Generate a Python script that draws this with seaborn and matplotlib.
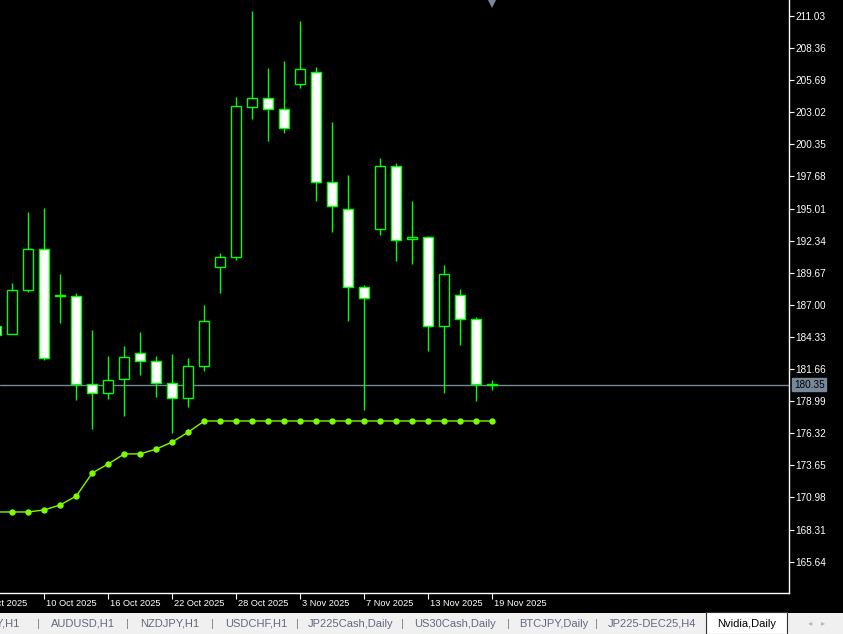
import matplotlib
matplotlib.use("Agg")
import matplotlib.pyplot as plt
import matplotlib.patches as mpatches
import matplotlib.transforms as mtransforms
import seaborn as sns
import pandas as pd

# ---------------- data ----------------
bar_idx = list(range(-1, 31))
opens = [185.20, 184.57, 188.23, 191.64, 187.80, 187.73, 180.42, 179.67, 180.83, 182.99,
         182.33, 180.50, 179.25, 181.91, 190.14, 190.97, 203.49, 204.19, 203.27, 205.35,
         206.35, 197.21, 194.96, 188.48, 193.30, 198.54, 192.47, 192.63, 185.20, 187.81,
         185.82, 180.42]
highs = [185.40, 188.81, 194.74, 195.07, 189.58, 187.98, 184.93, 182.77, 183.60, 184.76,
         182.77, 182.93, 182.60, 187.01, 191.30, 204.27, 211.42, 206.71, 207.29, 210.61,
         206.79, 202.22, 197.81, 188.67, 199.23, 198.81, 195.65, 192.74, 190.33, 188.34,
         186.01, 180.77]
lows = [184.30, 184.57, 188.11, 182.38, 185.45, 179.11, 176.70, 179.19, 177.72, 181.19,
        179.30, 176.31, 178.47, 181.46, 187.95, 190.69, 202.49, 200.66, 201.33, 205.07,
        195.68, 193.02, 185.68, 178.22, 192.85, 190.61, 190.44, 183.12, 179.63, 183.62,
        178.97, 179.88]
closes = [184.51, 188.23, 191.64, 182.58, 187.76, 180.42, 179.67, 180.77, 182.66, 182.33,
          180.50, 179.25, 181.91, 185.65, 190.97, 203.52, 204.19, 203.27, 201.69, 206.60,
          197.21, 195.21, 188.48, 187.53, 198.54, 192.39, 192.63, 185.20, 189.56, 185.82,
          180.42, 180.35]

ind_idx = list(range(-2, 31))
ind_vals = [169.77, 169.77, 169.77, 169.77, 169.94, 170.36, 171.10, 173.02, 173.77, 174.60,
            174.60, 175.01, 175.59, 176.42, 177.34, 177.34, 177.34, 177.34, 177.34, 177.34,
            177.34, 177.34, 177.34, 177.34, 177.34, 177.34, 177.34, 177.34, 177.34, 177.34,
            177.34, 177.34, 177.34]

bid_price = 180.35
price_ticks = [211.03, 208.36, 205.69, 203.02, 200.35, 197.68, 195.01, 192.34, 189.67,
               187.00, 184.33, 181.66, 178.99, 176.32, 173.65, 170.98, 168.31, 165.64]
date_tick_idx = [-2, 2, 6, 10, 14, 18, 22, 26, 30]
date_tick_labels = ["6 Oct 2025", "10 Oct 2025", "16 Oct 2025", "22 Oct 2025", "28 Oct 2025",
                    "3 Nov 2025", "7 Nov 2025", "13 Nov 2025", "19 Nov 2025"]
tabs = ["JPY,H1", "AUDUSD,H1", "NZDJPY,H1", "USDCHF,H1", "JP225Cash,Daily",
        "US30Cash,Daily", "BTCJPY,Daily", "JP225-DEC25,H4", "Nvidia,Daily"]
active_tab = "Nvidia,Daily"

# ---------------- style ----------------
sns.set_style("dark")
plt.rcParams['font.family'] = ['Liberation Sans', 'DejaVu Sans']

W, H = 843, 634
fig = plt.figure(figsize=(W / 100, H / 100), dpi=100, facecolor="black")
ax_l, ax_r, ax_b = 0, 789, 593
ax = fig.add_axes([ax_l / W, (H - ax_b) / H, (ax_r - ax_l) / W, ax_b / H])
ax.set_facecolor("black")

GREEN = "#00FF00"
IND = "#7CFC00"
BIDC = "#778899"
XLIM = (-0.77, 48.54)
YLIM = (163.03, 212.36)

# price (bid) line
ax.axhline(bid_price, color=BIDC, lw=1, zorder=1)

# indicator line with dots
df_ind = pd.DataFrame({"idx": ind_idx, "val": ind_vals})
sns.lineplot(data=df_ind, x="idx", y="val", ax=ax, color=IND, lw=1, marker="o",
             markersize=4.6, markeredgewidth=0, zorder=4)

# candles
df = pd.DataFrame({"idx": bar_idx, "open": opens, "high": highs, "low": lows, "close": closes})
ax.vlines(df["idx"], df["low"], df["high"], color=GREEN, lw=1, zorder=2)
bottoms = df[["open", "close"]].min(axis=1)
heights = (df["open"] - df["close"]).abs()
fills = ["white" if c < o else "black" for o, c in zip(df["open"], df["close"])]
ax.bar(df["idx"], heights, bottom=bottoms, width=0.62, color=fills, edgecolor=GREEN,
       linewidth=1, zorder=3)

# spines
for s in ["top", "left"]:
    ax.spines[s].set_visible(False)
for s in ["right", "bottom"]:
    ax.spines[s].set_visible(True)
    ax.spines[s].set_color("white")
    ax.spines[s].set_linewidth(1)
ax.grid(False)

# right price axis
ax.yaxis.tick_right()
ax.set_yticks(price_ticks)
ax.set_yticklabels([f"{p:.2f}" for p in price_ticks])
ax.tick_params(axis="y", colors="white", labelcolor="white", length=3.5, width=0.8,
               direction="out", pad=1, labelsize=7.2, right=True, left=False)

# bottom date axis: tick marks + left-aligned labels
ax.set_xticks(date_tick_idx)
ax.set_xticklabels([""] * len(date_tick_idx))
ax.tick_params(axis="x", colors="white", length=4, width=0.8, direction="out", bottom=True)
ax.set_xlabel("")
ax.set_ylabel("")
trans = mtransforms.blended_transform_factory(ax.transData, ax.transAxes)
for xi, lab in zip(date_tick_idx, date_tick_labels):
    ax.text(xi + 0.1, -0.017, lab, transform=trans, ha="left", va="center", fontsize=6.7,
            color="white", clip_on=False)

# limits last (set_xticks may expand them)
ax.set_xlim(*XLIM)
ax.set_ylim(*YLIM)

# bid price label box
ax.annotate(f"{bid_price:.2f}", xy=(1, bid_price), xycoords=("axes fraction", "data"),
            xytext=(3.5, 0), textcoords="offset points", ha="left", va="center",
            fontsize=7.2, color="black",
            bbox=dict(boxstyle="square,pad=0.15", fc=BIDC, ec=BIDC), annotation_clip=False)

# chart-shift marker at the last bar
ax.annotate("", xy=(bar_idx[-1], 1), xycoords=("data", "axes fraction"))
ax.plot([bar_idx[-1]], [1], marker="v", markersize=7.5, color=BIDC, markeredgewidth=0,
        transform=trans + mtransforms.ScaledTranslation(0, -2.5 / 72 * 72 / 100, fig.dpi_scale_trans),
        clip_on=False, zorder=6)

# tab bar
tab_top = 613
fig.patches.append(mpatches.Rectangle((0, 0), 1, (H - tab_top) / H, transform=fig.transFigure,
                                      fc="#F0F0F0", ec="none", zorder=0))
tab_x = [-16, 51, 140, 225, 308, 414, 519, 608, 717]
sep_x = [38, 127, 212, 297, 402, 508, 596]
ty = (H - 624) / H
for name, x in zip(tabs, tab_x):
    if name == active_tab:
        fig.patches.append(mpatches.Rectangle((706 / W, 0), 81 / W, (H - tab_top + 1) / H,
                                              transform=fig.transFigure, fc="white",
                                              ec="#333333", lw=0.8, zorder=1))
        fig.text(x / W, ty, name, fontsize=8, color="black", ha="left", va="center", zorder=2)
    else:
        fig.text(x / W, ty, name, fontsize=8, color="#5F6A82", ha="left", va="center", zorder=2)
for x in sep_x:
    fig.text(x / W, ty, "|", fontsize=8, color="#808080", ha="center", va="center")
fig.text(810 / W, ty, "\u25C2", fontsize=6, color="#B8B8B8", ha="center", va="center")
fig.text(823 / W, ty, "\u25B8", fontsize=6, color="#B8B8B8", ha="center", va="center")

fig.savefig("out.png", dpi=100, facecolor="black")
